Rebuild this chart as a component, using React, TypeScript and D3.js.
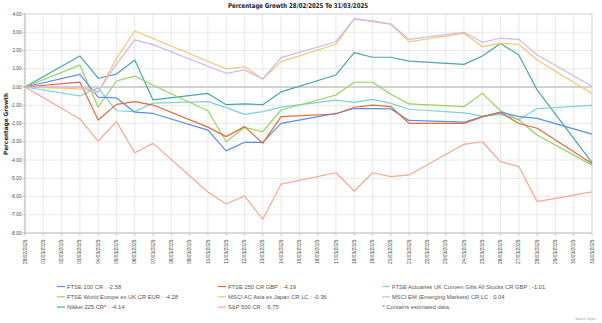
import React from "react";
import * as d3 from "d3";

const W = 602;
const H = 323;

const tradingDays = [
  "2025-02-28", "2025-03-03", "2025-03-04", "2025-03-05", "2025-03-06", "2025-03-07",
  "2025-03-10", "2025-03-11", "2025-03-12", "2025-03-13", "2025-03-14",
  "2025-03-17", "2025-03-18", "2025-03-19", "2025-03-20", "2025-03-21",
  "2025-03-24", "2025-03-25", "2025-03-26", "2025-03-27", "2025-03-28", "2025-03-31",
];

const ftse100 = [0, 0.69, -0.55, -0.6, -1.38, -1.45, -2.36, -3.5, -3.03, -3.03, -1.99, -1.45, -1.18, -1.18, -1.2, -1.83, -1.93, -1.62, -1.38, -1.62, -1.72, -2.58];
const ftse250 = [0, 0.27, -1.81, -0.95, -0.8, -0.99, -2.2, -2.72, -2.17, -3.08, -1.62, -1.48, -1.11, -0.99, -1.08, -1.99, -1.99, -1.64, -1.4, -2.0, -2.26, -4.19];
const gilts = [0, -0.49, -0.05, -1.3, -1.35, -0.88, -0.8, -1.13, -1.5, -1.35, -1.1, -0.72, -0.84, -0.68, -0.9, -1.22, -1.42, -1.6, -1.5, -1.78, -1.18, -1.01];
const europe = [0, 1.2, -1.11, 0.33, 0.6, 0.1, -1.3, -3.0, -2.21, -2.45, -1.26, -0.44, 0.26, 0.26, -0.4, -0.93, -1.08, -0.35, -1.3, -1.81, -2.63, -4.28];
const asia = [0, -0.1, -0.3, 1.57, 3.07, 2.66, 1.41, 0.99, 1.11, 0.44, 1.39, 2.34, 3.73, 3.58, 3.45, 2.48, 2.94, 2.21, 2.39, 2.34, 1.48, -0.36];
const em = [0, 0.0, -0.25, 1.25, 2.58, 2.32, 1.14, 0.75, 0.93, 0.44, 1.61, 2.48, 3.73, 3.63, 3.45, 2.61, 3.0, 2.45, 2.67, 2.61, 1.75, 0.04];
const nikkei = [0, 1.7, 0.48, 0.71, 1.48, -0.71, -0.35, -0.97, -0.92, -0.97, -0.27, 0.66, 1.88, 1.63, 1.63, 1.42, 1.24, 1.7, 2.39, 1.75, -0.16, -4.14];
const sp500 = [0, -1.75, -2.96, -1.9, -3.6, -3.09, -5.75, -6.41, -5.97, -7.25, -5.32, -4.7, -5.7, -4.7, -4.91, -4.82, -3.14, -3.0, -4.09, -4.36, -6.28, -5.75];

const seriesNames = [
  "FTSE 100 CR : -2.58",
  "FTSE 250 CR GBP : -4.19",
  "FTSE Actuaries UK Conven Gilts All Stocks CR GBP : -1.01",
  "FTSE World Europe ex UK CR EUR : -4.28",
  "MSCI AC Asia ex Japan CR LC : -0.36",
  "MSCI EM (Emerging Markets) CR LC : 0.04",
  "Nikkei 225 CR* : -4.14",
  "S&P 500 CR : -5.75",
];
const seriesColors = ["#5b8fe3", "#e2693d", "#7dd0dc", "#92d55b", "#f8c36f", "#c8b7f7", "#47a5ae", "#f9a68c"];
const seriesValues = [ftse100, ftse250, gilts, europe, asia, em, nikkei, sp500];
// draw order (back to front)
const drawOrder = [7, 6, 2, 3, 0, 1, 4, 5];

const yTicks = [4, 3, 2, 1, 0, -1, -2, -3, -4, -5, -6, -7, -8];
const title = "Percentage Growth 28/02/2025 To 31/03/2025";
const yTitle = "Percentage Growth";
const note = "*  Contains estimated data.";
const source = "Source: Lipper";

export default function App() {
  const parse = d3.utcParse("%Y-%m-%d");
  const start = parse("2025-02-28") as Date;
  const end = parse("2025-03-31") as Date;
  const x = d3.scaleUtc().domain([start, end]).range([25, 592]);
  const y = d3.scaleLinear().domain([-8, 4]).range([233, 14]);
  const days = d3.utcDay.range(start, d3.utcDay.offset(end, 1));
  const fmt = d3.utcFormat("%d/%m/%Y");
  const minor = d3.range(-8, 4.001, 0.2);

  const line = d3
    .line<number>()
    .x((_, i) => x(parse(tradingDays[i]) as Date))
    .y((v) => y(v));

  const legendCols = [57, 218, 382];
  const legendRows = [286.5, 296.8, 307.1];
  const font = "'Liberation Sans', Arial, sans-serif";

  return (
    <svg
      width={W}
      height={H}
      style={{ position: "absolute", left: 0, top: 0, display: "block", background: "#fff" }}
      fontFamily={font}
    >
      <text x={298} y={7.5} textAnchor="middle" fontSize={6.6} fontWeight="bold" fill="#222" fontFamily="'DejaVu Sans', sans-serif" textLength={140} lengthAdjust="spacingAndGlyphs">
        {title}
      </text>

      {/* gridlines */}
      {days.map((d, i) => (
        <line key={"vg" + i} x1={x(d)} x2={x(d)} y1={14} y2={233} stroke="#e2e2e2" strokeWidth={0.8} />
      ))}
      {yTicks.map((t) => (
        <line key={"hg" + t} x1={25} x2={592} y1={y(t)} y2={y(t)} stroke={t === 0 ? "#d2d2d2" : "#e2e2e2"} strokeWidth={t === 0 ? 2 : 0.8} />
      ))}
      <rect x={25} y={14} width={567} height={219} fill="none" stroke="#d4d4d4" strokeWidth={0.8} />
      <line x1={25} x2={25} y1={14} y2={233} stroke="#c4c4c4" strokeWidth={0.8} />
      <line x1={25} x2={592} y1={233} y2={233} stroke="#c4c4c4" strokeWidth={0.8} />

      {/* minor y ticks */}
      {minor.map((m, i) => (
        <line key={"mt" + i} x1={23.5} x2={25} y1={y(m)} y2={y(m)} stroke="#aaa" strokeWidth={0.5} />
      ))}
      {yTicks.map((t) => (
        <g key={"yt" + t}>
          <line x1={22.5} x2={25} y1={y(t)} y2={y(t)} stroke="#999" strokeWidth={0.6} />
          <text x={21.5} y={y(t) + 1.6} textAnchor="end" fontSize={4.7} fill="#444">
            {t.toFixed(2)}
          </text>
        </g>
      ))}

      {/* x ticks and labels */}
      {days.map((d, i) => (
        <g key={"xt" + i}>
          <line x1={x(d)} x2={x(d)} y1={233} y2={236} stroke="#aaa" strokeWidth={0.6} />
          <text
            transform={`translate(${x(d) + 1.6},${239.5}) rotate(-90)`}
            textAnchor="end"
            fontSize={4.9}
            fill="#444"
          >
            {fmt(d)}
          </text>
        </g>
      ))}

      <text
        transform={`translate(7.5,124) rotate(-90)`}
        textAnchor="middle"
        fontSize={6}
        fontWeight="bold"
        fill="#222"
        fontFamily="'DejaVu Sans', sans-serif"
        textLength={62}
        lengthAdjust="spacingAndGlyphs"
      >
        {yTitle}
      </text>

      {/* series */}
      {drawOrder.map((si) => (
        <path key={"s" + si} d={line(seriesValues[si]) || ""} fill="none" stroke={seriesColors[si]} strokeWidth={1.2} strokeLinejoin="round" />
      ))}

      {/* legend */}
      {seriesNames.map((name, i) => {
        const cx = legendCols[i % 3];
        const cy = legendRows[Math.floor(i / 3)];
        return (
          <g key={"lg" + i}>
            <line x1={cx} x2={cx + 8} y1={cy} y2={cy} stroke={seriesColors[i]} strokeWidth={1.2} />
            <text x={cx + 10} y={cy + 2} fontSize={5.8} fill="#555">
              {name}
            </text>
          </g>
        );
      })}
      <text x={legendCols[2] + 0.5} y={legendRows[2] + 2} fontSize={5.8} fill="#555">
        {note}
      </text>
      <text x={596} y={319.5} textAnchor="end" fontSize={3.2} fill="#999">
        {source}
      </text>
    </svg>
  );
}
